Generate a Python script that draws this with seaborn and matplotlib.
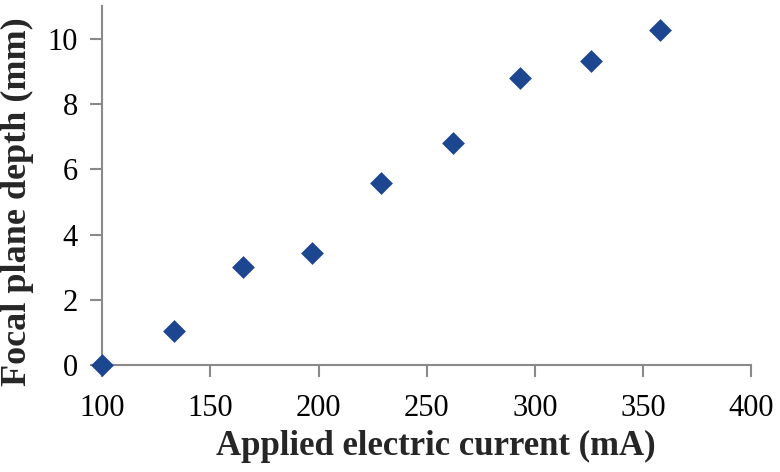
import matplotlib
matplotlib.use("Agg")
import matplotlib.pyplot as plt
import seaborn as sns
import pandas as pd

current_mA = [100, 133, 165, 197, 229, 262, 293, 326, 358]
depth_mm = [0.0, 1.03, 3.0, 3.43, 5.57, 6.81, 8.80, 9.31, 10.27]
x_ticks = [100, 150, 200, 250, 300, 350, 400]
y_ticks = [0, 2, 4, 6, 8, 10]

sns.set_theme(style="white")
plt.rcParams['font.family'] = ['Liberation Serif', 'DejaVu Serif']

df = pd.DataFrame({"x": current_mA, "y": depth_mm})

fig = plt.figure(figsize=(7.8, 4.72), dpi=100)
ax = fig.add_axes([0.131, 0.2267, 0.832, 0.760])
sns.scatterplot(data=df, x="x", y="y", marker="D", s=135, color="#1d4690",
                edgecolor="#1d4690", linewidth=0, ax=ax, clip_on=False, zorder=3)

ax.set_xlim(100, 400)
ax.set_ylim(0, 11)
ax.set_xticks(x_ticks)
ax.set_yticks(y_ticks)
ax.set_xticklabels([str(v) for v in x_ticks])
ax.set_yticklabels([str(v) for v in y_ticks])
for side in ["top", "right"]:
    ax.spines[side].set_visible(False)
for side in ["left", "bottom"]:
    ax.spines[side].set_color("#8a8a8a")
    ax.spines[side].set_linewidth(1.5)
ax.tick_params(axis="both", direction="out", length=8.6, width=1.5, color="#8a8a8a",
               labelsize=22, labelcolor="black", bottom=True, left=True)
ax.tick_params(axis="x", pad=12)
ax.tick_params(axis="y", pad=9)
ax.set_xlabel("Applied electric current (mA)", fontsize=25, fontweight="bold")
ax.set_ylabel("Focal plane depth (mm)", fontsize=26, fontweight="bold")
ax.xaxis.set_label_coords(0.514, -0.181)
ax.yaxis.set_label_coords(-0.105, 0.455)
ax.grid(False)

fig.savefig("out.png", dpi=100)
